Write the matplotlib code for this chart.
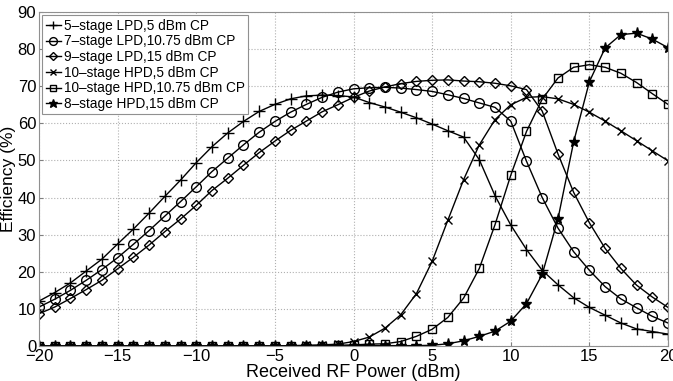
import numpy as np
import matplotlib
matplotlib.use("Agg")
import matplotlib.pyplot as plt

plt.rcParams['font.family'] = ['Liberation Sans', 'DejaVu Sans']

x = list(range(-20, 21))

lpd5 = [12.1, 14.4, 17.0, 20.2, 23.4, 27.5, 31.5, 35.8, 40.3, 44.7,
        49.4, 53.7, 57.4, 60.5, 63.2, 65.1, 66.6, 67.4, 67.6, 67.5,
        67.1, 65.6, 64.4, 63.0, 61.5, 59.8, 58.0, 56.3, 50.2, 40.5,
        32.6, 26.0, 20.4, 16.5, 13.0, 10.4, 8.3, 6.2, 4.6, 3.9, 3.2]
lpd1075 = [10.5, 12.6, 15.0, 17.7, 20.6, 23.8, 27.4, 31.1, 35.0, 38.9,
           42.9, 47.0, 50.6, 54.2, 57.6, 60.5, 63.0, 65.1, 67.0, 68.4,
           69.3, 69.6, 69.7, 69.5, 69.1, 68.6, 67.7, 66.7, 65.5, 64.3,
           60.6, 49.8, 40.0, 31.8, 25.4, 20.4, 16.0, 12.7, 10.3, 8.0, 6.2]
lpd15 = [8.7, 10.5, 12.8, 15.2, 17.7, 20.8, 23.9, 27.2, 30.8, 34.2,
         37.9, 41.9, 45.2, 48.7, 52.1, 55.2, 58.1, 60.6, 63.1, 65.0,
         67.0, 68.7, 69.8, 70.7, 71.3, 71.6, 71.7, 71.4, 71.2, 70.8,
         70.1, 69.1, 63.3, 51.8, 41.4, 33.2, 26.3, 20.9, 16.4, 13.2, 10.4]
hpd5 = [0.0, 0.0, 0.0, 0.0, 0.0, 0.0, 0.0, 0.0, 0.0, 0.0,
        0.0, 0.0, 0.0, 0.0, 0.0, 0.0, 0.1, 0.2, 0.3, 0.5,
        1.2, 2.4, 4.8, 8.4, 14.1, 22.8, 33.9, 44.8, 54.2, 61.0,
        65.0, 67.0, 67.2, 66.6, 65.1, 63.0, 60.6, 58.0, 55.3, 52.6, 49.9]
hpd1075 = [0.0, 0.0, 0.0, 0.0, 0.0, 0.0, 0.0, 0.0, 0.0, 0.0,
           0.0, 0.0, 0.0, 0.0, 0.0, 0.0, 0.0, 0.1, 0.1, 0.2,
           0.3, 0.5, 0.6, 1.2, 2.6, 4.5, 7.7, 12.9, 20.9, 32.7,
           46.0, 57.8, 66.5, 72.2, 75.1, 75.8, 75.1, 73.5, 71.0, 68.0, 65.1]
hpd15 = [0.0, 0.0, 0.0, 0.0, 0.0, 0.0, 0.0, 0.0, 0.0, 0.0,
         0.0, 0.0, 0.0, 0.0, 0.0, 0.0, 0.0, 0.0, 0.0, 0.0,
         0.1, 0.1, 0.1, 0.1, 0.1, 0.2, 0.6, 1.4, 2.6, 4.0,
         6.7, 11.4, 19.3, 34.2, 55.0, 71.2, 80.3, 83.9, 84.3, 82.7, 80.4]

labels = ["5–stage LPD,5 dBm CP", "7–stage LPD,10.75 dBm CP",
          "9–stage LPD,15 dBm CP", "10–stage HPD,5 dBm CP",
          "10–stage HPD,10.75 dBm CP", "8–stage HPD,15 dBm CP"]
series = [lpd5, lpd1075, lpd15, hpd5, hpd1075, hpd15]
markers = ['+', 'o', 'D', 'x', 's', '*']
msizes = [8, 7, 5.5, 6, 5.5, 8]
xticks = [-20, -15, -10, -5, 0, 5, 10, 15, 20]
yticks = [0, 10, 20, 30, 40, 50, 60, 70, 80, 90]

fig = plt.figure(figsize=(6.73, 3.81), dpi=100)
ax = fig.add_axes([39/673, 1-346/381, (668-39)/673, (346-12)/381])

for y, lab, m, ms in zip(series, labels, markers, msizes):
    face = 'k' if m == '*' else 'none'
    ax.plot(x, y, color='k', lw=1.0, marker=m, ms=ms, mfc=face, mec='k',
            mew=1.0, label=lab)

ax.set_xlim(-20, 20)
ax.set_ylim(0, 90)
ax.set_xticks(xticks)
ax.set_yticks(yticks)
ax.grid(True, linestyle=':', color='#b0b0b0', lw=0.8)
ax.tick_params(direction='in', labelsize=12, length=3, color='#808080', pad=2)
for s in ax.spines.values():
    s.set_color('#909090')
    s.set_linewidth(0.8)
ax.set_xlabel('Received RF Power (dBm)', fontsize=13, labelpad=0)
ax.set_ylabel('Efficiency (%)', fontsize=12.5, labelpad=1)

leg = ax.legend(loc='upper left', fontsize=9.8, handlelength=1.1,
                handletextpad=0.2, borderpad=0.25, labelspacing=0.12,
                borderaxespad=0.25, fancybox=False, framealpha=1,
                markerscale=0.8)
leg.get_frame().set_edgecolor('#909090')
leg.get_frame().set_linewidth(0.8)

fig.savefig('out.png', dpi=100)
